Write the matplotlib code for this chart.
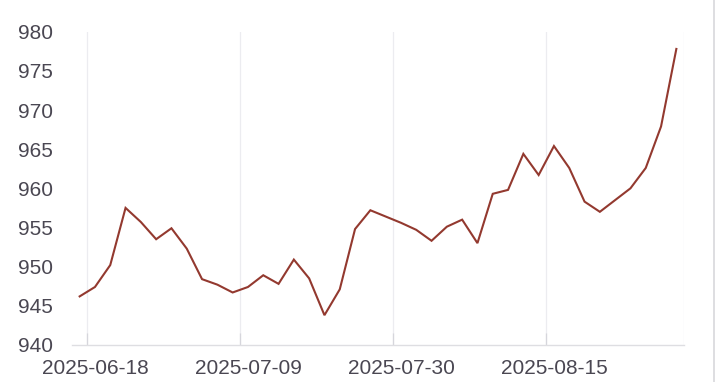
import matplotlib
matplotlib.use("Agg")
import matplotlib.pyplot as plt
import numpy as np

# values (one per category, evenly spaced)
prices = [946.2, 947.4, 950.2, 957.5, 955.7, 953.5, 954.9, 952.3, 948.4, 947.7,
          946.7, 947.4, 948.9, 947.8, 950.9, 948.5, 943.8, 947.1, 954.8, 957.2,
          956.4, 955.6, 954.7, 953.3, 955.1, 956.0, 953.0, 959.3, 959.8, 964.4,
          961.7, 965.4, 962.6, 958.3, 957.0, 958.5, 960.0, 962.6, 967.9, 977.8]
tick_idx = [1, 11, 21, 31]
tick_labels = ['2025-06-18', '2025-07-09', '2025-07-30', '2025-08-15']
y_ticks = [940, 945, 950, 955, 960, 965, 970, 975, 980]

plt.rcParams['font.family'] = ['Liberation Sans', 'DejaVu Sans']

fig = plt.figure(figsize=(7.2, 3.82), dpi=100)
ax = fig.add_axes([0.1, 0.097, 0.85, 0.82])

x = np.arange(len(prices))
ax.plot(x, prices, color='#93392f', linewidth=1.5, solid_joinstyle='miter')

# category boundaries used as split lines (ECharts style)
bounds = [t - 0.5 for t in tick_idx]
for b in bounds:
    ax.axvline(b, color='#ececf0', linewidth=0.9, zorder=0)
ax.axvline(len(prices) - 0.5, color='#ececf0', linewidth=0.9, zorder=0)

ax.set_xlim(-0.5, len(prices) - 0.5)
ax.set_ylim(940, 980)
ax.set_yticks(y_ticks)
ax.set_xticks(tick_idx)
ax.set_xticklabels(tick_labels)
# small inward ticks at the boundaries
ax.set_xticks(bounds, minor=True)
ax.tick_params(axis='x', which='minor', direction='in', length=9,
               color='#d6d6dc', width=0.9)

for side in ['top', 'right', 'left']:
    ax.spines[side].set_visible(False)
ax.spines['bottom'].set_color('#dedee2')
ax.spines['bottom'].set_linewidth(1.0)

ax.tick_params(axis='both', which='major', length=0, labelsize=15, labelcolor='#4a4752')
ax.tick_params(axis='y', pad=14)
ax.tick_params(axis='x', which='major', pad=10)

# thin frame edge at the right of the screenshot
fig.add_artist(plt.Line2D([0.991, 0.991], [0, 1], color='#d8d8dc', linewidth=1.2))

fig.savefig('out.png', dpi=100, facecolor='white')
